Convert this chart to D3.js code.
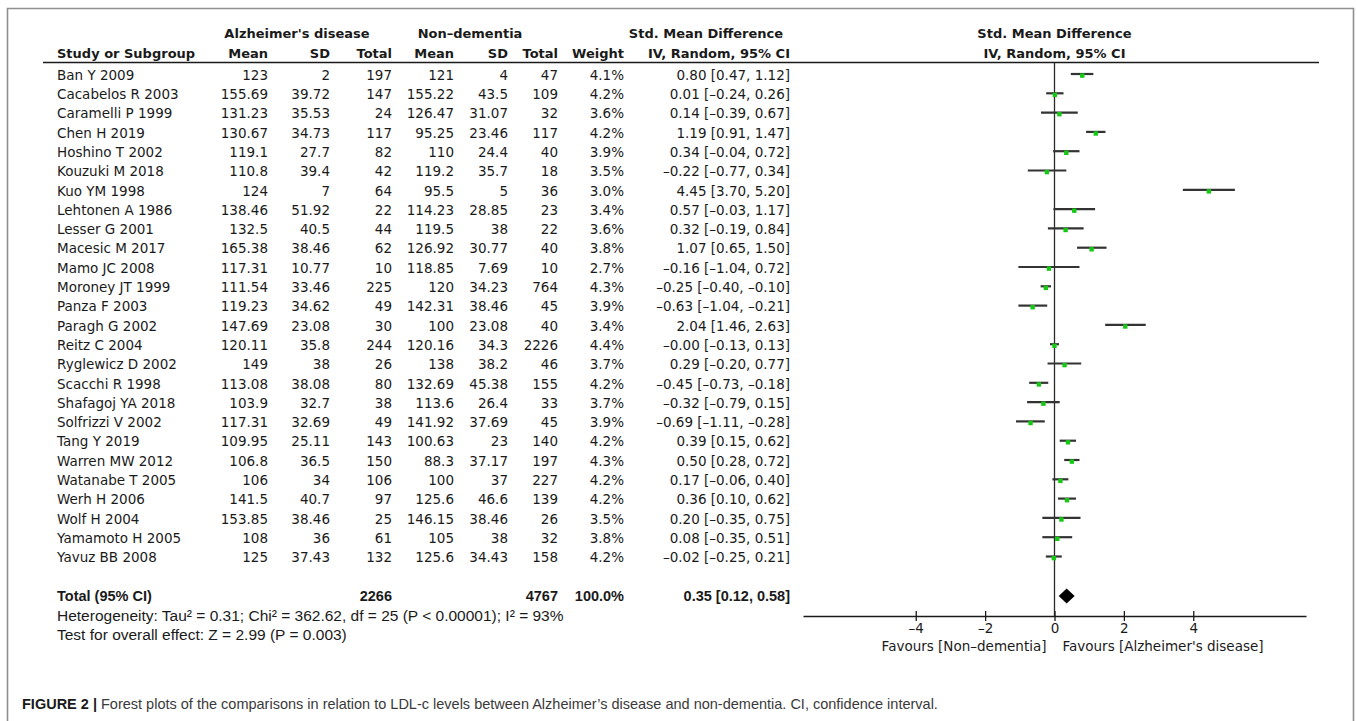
<!DOCTYPE html>
<html>
<head>
<meta charset="utf-8">
<script src="https://cdn.jsdelivr.net/npm/d3@7"></script>
<style>
  html, body { margin: 0; padding: 0; background: #fff; }
  svg { display: block; }
  .tbl { font-family: "DejaVu Sans", "Lucida Grande", sans-serif; font-size: 13.5px; fill: #1a1a1a; }
  .hdr { font-weight: bold; font-size: 13px; }
  .narrow { font-family: "Liberation Sans", Arial, Helvetica, sans-serif; font-size: 15.5px; fill: #1a1a1a; }
  .cap { font-family: "Liberation Sans", Arial, Helvetica, sans-serif; font-size: 14.5px; }
</style>
</head>
<body>
<svg id="chart" width="1357" height="721"></svg>
<script>
// Study-level data: LDL-c, Alzheimer's disease vs non-dementia
const studies = [
  "Ban Y 2009", "Cacabelos R 2003", "Caramelli P 1999", "Chen H 2019", "Hoshino T 2002",
  "Kouzuki M 2018", "Kuo YM 1998", "Lehtonen A 1986", "Lesser G 2001", "Macesic M 2017",
  "Mamo JC 2008", "Moroney JT 1999", "Panza F 2003", "Paragh G 2002", "Reitz C 2004",
  "Ryglewicz D 2002", "Scacchi R 1998", "Shafagoj YA 2018", "Solfrizzi V 2002", "Tang Y 2019",
  "Warren MW 2012", "Watanabe T 2005", "Werh H 2006", "Wolf H 2004", "Yamamoto H 2005",
  "Yavuz BB 2008"
];
const adMean = [123, 155.69, 131.23, 130.67, 119.1, 110.8, 124, 138.46, 132.5, 165.38,
  117.31, 111.54, 119.23, 147.69, 120.11, 149, 113.08, 103.9, 117.31, 109.95,
  106.8, 106, 141.5, 153.85, 108, 125];
const adSD = [2, 39.72, 35.53, 34.73, 27.7, 39.4, 7, 51.92, 40.5, 38.46,
  10.77, 33.46, 34.62, 23.08, 35.8, 38, 38.08, 32.7, 32.69, 25.11,
  36.5, 34, 40.7, 38.46, 36, 37.43];
const adN = [197, 147, 24, 117, 82, 42, 64, 22, 44, 62,
  10, 225, 49, 30, 244, 26, 80, 38, 49, 143,
  150, 106, 97, 25, 61, 132];
const ndMean = [121, 155.22, 126.47, 95.25, 110, 119.2, 95.5, 114.23, 119.5, 126.92,
  118.85, 120, 142.31, 100, 120.16, 138, 132.69, 113.6, 141.92, 100.63,
  88.3, 100, 125.6, 146.15, 105, 125.6];
const ndSD = [4, 43.5, 31.07, 23.46, 24.4, 35.7, 5, 28.85, 38, 30.77,
  7.69, 34.23, 38.46, 23.08, 34.3, 38.2, 45.38, 26.4, 37.69, 23,
  37.17, 37, 46.6, 38.46, 38, 34.43];
const ndN = [47, 109, 32, 117, 40, 18, 36, 23, 22, 40,
  10, 764, 45, 40, 2226, 46, 155, 33, 45, 140,
  197, 227, 139, 26, 32, 158];
const weight = [4.1, 4.2, 3.6, 4.2, 3.9, 3.5, 3.0, 3.4, 3.6, 3.8,
  2.7, 4.3, 3.9, 3.4, 4.4, 3.7, 4.2, 3.7, 3.9, 4.2,
  4.3, 4.2, 4.2, 3.5, 3.8, 4.2];
const smd = [0.80, 0.01, 0.14, 1.19, 0.34, -0.22, 4.45, 0.57, 0.32, 1.07,
  -0.16, -0.25, -0.63, 2.04, -0, 0.29, -0.45, -0.32, -0.69, 0.39,
  0.50, 0.17, 0.36, 0.20, 0.08, -0.02];
const ciLow = [0.47, -0.24, -0.39, 0.91, -0.04, -0.77, 3.70, -0.03, -0.19, 0.65,
  -1.04, -0.40, -1.04, 1.46, -0.13, -0.20, -0.73, -0.79, -1.11, 0.15,
  0.28, -0.06, 0.10, -0.35, -0.35, -0.25];
const ciHigh = [1.12, 0.26, 0.67, 1.47, 0.72, 0.34, 5.20, 1.17, 0.84, 1.50,
  0.72, -0.10, -0.21, 2.63, 0.13, 0.77, -0.18, 0.15, -0.28, 0.62,
  0.72, 0.40, 0.62, 0.75, 0.51, 0.21];

// Pooled (random-effects) result
const totalAD = 2266, totalND = 4767, totalWeight = 100.0;
const pooled = { est: 0.35, lo: 0.12, hi: 0.58 };
const heterogeneity = { tau2: "0.31", chi2: "362.62", df: 25, p: "P < 0.00001", i2: "93%" };
const overall = { z: "2.99", p: "P = 0.003" };
const axisTicks = [-4, -2, 0, 2, 4];

const svg = d3.select("#chart");
const DASH = "\u2013";
const num = v => (v < 0 || Object.is(v, -0)) ? DASH + Math.abs(v).toFixed(2) : v.toFixed(2);
const ciText = (e, l, h) => `${num(e)} [${num(l)}, ${num(h)}]`;

// Row positions: 26 studies, a blank line, the total and two footnote lines
const y = d3.scaleLinear().domain([0, 29]).range([75, 75 + 29 * 19.3]);
const x = d3.scaleLinear().domain([-7.25, 7.25]).range([803, 1306]);

// Figure frame (left, top, right)
svg.append("path")
  .attr("d", "M7.5,721 V8.5 H1353.5 V721")
  .attr("fill", "none").attr("stroke", "#8f8f8f").attr("stroke-width", 1.6);

// Column right edges in the table
const col = { study: 57, adMean: 268, adSD: 330, adN: 392, ndMean: 454, ndSD: 508, ndN: 558, w: 624, ci: 790 };

const g = svg.append("g").attr("class", "tbl");

// Header rows
const hdr = g.append("g").attr("class", "hdr");
hdr.append("text").attr("x", 297).attr("y", 33).attr("dy", "0.35em").attr("text-anchor", "middle").text("Alzheimer's disease");
hdr.append("text").attr("x", 470).attr("y", 33).attr("dy", "0.35em").attr("text-anchor", "middle").text("Non" + DASH + "dementia");
hdr.append("text").attr("x", 706).attr("y", 33).attr("dy", "0.35em").attr("text-anchor", "middle").text("Std. Mean Difference");
hdr.append("text").attr("x", x(0)).attr("y", 33).attr("dy", "0.35em").attr("text-anchor", "middle").text("Std. Mean Difference");
hdr.append("text").attr("x", x(0)).attr("y", 53).attr("dy", "0.35em").attr("text-anchor", "middle").text("IV, Random, 95% CI");

const colHeads = [
  ["Study or Subgroup", col.study, "start"], ["Mean", col.adMean, "end"], ["SD", col.adSD, "end"],
  ["Total", col.adN, "end"], ["Mean", col.ndMean, "end"], ["SD", col.ndSD, "end"],
  ["Total", col.ndN, "end"], ["Weight", col.w, "end"], ["IV, Random, 95% CI", col.ci, "end"]
];
hdr.selectAll("text.colhead").data(colHeads).join("text")
  .attr("class", "colhead")
  .attr("x", d => d[1]).attr("y", 53).attr("dy", "0.35em")
  .attr("text-anchor", d => d[2]).text(d => d[0]);

svg.append("line").attr("x1", 43).attr("x2", 1319).attr("y1", 62.5).attr("y2", 62.5)
  .attr("stroke", "#1a1a1a").attr("stroke-width", 1.3);

// Study rows
const rows = g.selectAll("g.row").data(studies).join("g")
  .attr("class", "row")
  .attr("transform", (d, i) => `translate(0,${y(i)})`);

const cells = [
  [(d, i) => studies[i], col.study, "start"],
  [(d, i) => String(adMean[i]), col.adMean, "end"],
  [(d, i) => String(adSD[i]), col.adSD, "end"],
  [(d, i) => String(adN[i]), col.adN, "end"],
  [(d, i) => String(ndMean[i]), col.ndMean, "end"],
  [(d, i) => String(ndSD[i]), col.ndSD, "end"],
  [(d, i) => String(ndN[i]), col.ndN, "end"],
  [(d, i) => weight[i].toFixed(1) + "%", col.w, "end"],
  [(d, i) => ciText(smd[i], ciLow[i], ciHigh[i]), col.ci, "end"]
];
cells.forEach(([fn, cx, anchor]) => {
  rows.append("text").attr("x", cx).attr("dy", "0.35em")
    .attr("text-anchor", anchor)
    .text((d, i) => fn(d, i));
});

// Forest plot: zero line
svg.append("line")
  .attr("x1", x(0)).attr("x2", x(0)).attr("y1", 62.5).attr("y2", 616)
  .attr("stroke", "#2a2a2a").attr("stroke-width", 1.3);

// Confidence intervals and point estimates
const plot = svg.append("g");
plot.selectAll("line.ci").data(studies).join("line")
  .attr("class", "ci")
  .attr("x1", (d, i) => x(ciLow[i])).attr("x2", (d, i) => x(ciHigh[i]))
  .attr("y1", (d, i) => y(i) - 1).attr("y2", (d, i) => y(i) - 1)
  .attr("stroke", "#333").attr("stroke-width", 2.2);
plot.selectAll("rect.pt").data(studies).join("rect")
  .attr("class", "pt")
  .attr("x", (d, i) => x(smd[i]) - 2.2).attr("y", (d, i) => y(i) - 1.6)
  .attr("width", 4.4).attr("height", 4.4)
  .attr("fill", "#14c814");

// Pooled diamond
const yT = y(27);
plot.append("path")
  .attr("d", `M${x(pooled.lo)},${yT} L${x(pooled.est)},${yT - 7.5} L${x(pooled.hi)},${yT} L${x(pooled.est)},${yT + 7.5} Z`)
  .attr("fill", "#000");

// Effect axis
const axisY = 616;
const axis = svg.append("g").attr("transform", `translate(0,${axisY})`)
  .call(d3.axisBottom(x).tickValues(axisTicks).tickSizeInner(5).tickSizeOuter(0)
    .tickFormat(d => d < 0 ? DASH + Math.abs(d) : String(d)));
axis.select(".domain").attr("stroke", "#1a1a1a").attr("stroke-width", 1.3);
axis.selectAll(".tick line").attr("y1", -5).attr("y2", 5).attr("stroke", "#1a1a1a").attr("stroke-width", 1.3);
axis.selectAll(".tick text")
  .attr("y", 7).attr("dy", "0.71em")
  .attr("font-family", "DejaVu Sans, sans-serif").attr("font-size", 13.5).attr("fill", "#1a1a1a");

g.append("text").attr("x", x(0) - 8).attr("y", 646).attr("dy", "0.35em").attr("text-anchor", "end")
  .text("Favours [Non" + DASH + "dementia]");
g.append("text").attr("x", x(0) + 8).attr("y", 646).attr("dy", "0.35em").attr("text-anchor", "start")
  .text("Favours [Alzheimer's disease]");

// Total row and footnotes
const foot = svg.append("g").attr("class", "narrow");
const totalCells = [
  ["Total (95% CI)", col.study, "start"],
  [String(totalAD), col.adN, "end"],
  [String(totalND), col.ndN, "end"],
  [totalWeight.toFixed(1) + "%", col.w, "end"],
  [ciText(pooled.est, pooled.lo, pooled.hi), col.ci, "end"]
];
foot.selectAll("text.tot").data(totalCells).join("text")
  .attr("class", "tot")
  .attr("x", d => d[1]).attr("y", yT).attr("dy", "0.35em")
  .attr("text-anchor", d => d[2]).attr("font-weight", "bold").attr("font-size", 14.5).text(d => d[0]);

foot.append("text").attr("x", col.study).attr("y", y(28)).attr("dy", "0.35em")
  .text(`Heterogeneity: Tau\u00B2 = ${heterogeneity.tau2}; Chi\u00B2 = ${heterogeneity.chi2}, df = ${heterogeneity.df} (${heterogeneity.p}); I\u00B2 = ${heterogeneity.i2}`);
foot.append("text").attr("x", col.study).attr("y", y(29)).attr("dy", "0.35em")
  .text(`Test for overall effect: Z = ${overall.z} (${overall.p})`);

// Caption
const cap = svg.append("text").attr("class", "cap").attr("x", 22).attr("y", 704).attr("dy", "0.35em");
cap.append("tspan").attr("font-weight", "bold").attr("fill", "#1a1a1a").text("FIGURE 2 | ");
cap.append("tspan").attr("fill", "#3a3a3a")
  .text("Forest plots of the comparisons in relation to LDL-c levels between Alzheimer\u2019s disease and non-dementia. CI, confidence interval.");
</script>
</body>
</html>
